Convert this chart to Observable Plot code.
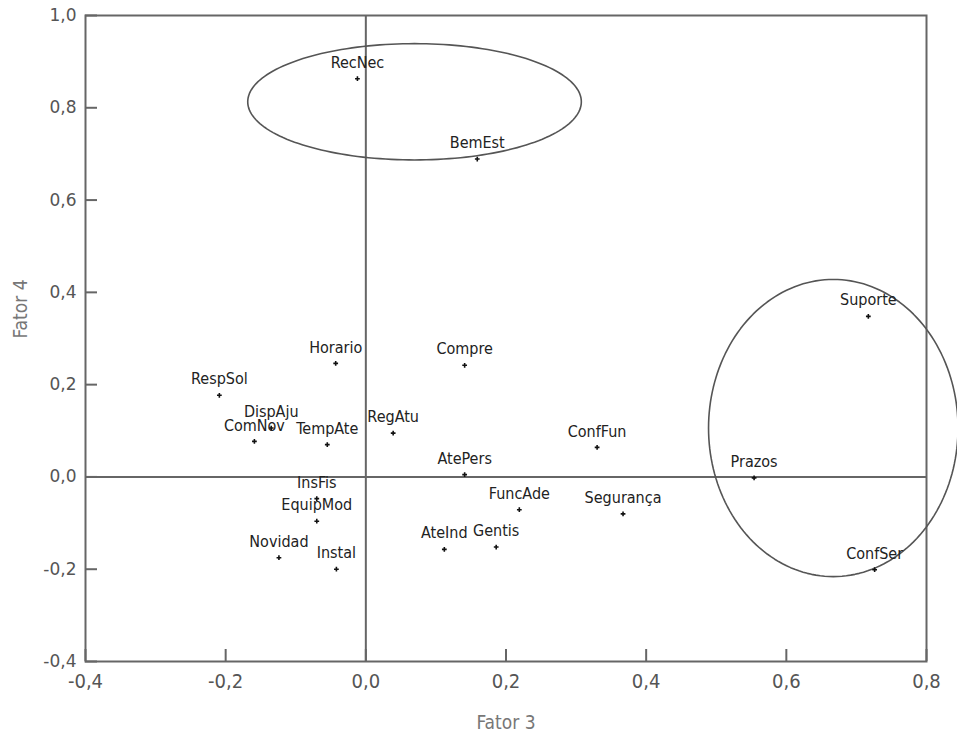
<!DOCTYPE html>
<html>
<head>
<meta charset="utf-8">
<script src="https://cdn.jsdelivr.net/npm/d3@7"></script>
<script src="https://cdn.jsdelivr.net/npm/@observablehq/plot@0.6"></script>
<style>
  html, body { margin: 0; padding: 0; background: #fff; }
  #chart svg { display: block; }
</style>
</head>
<body>
<div id="chart"></div>
<script>
// Variable names and loadings (Fator 3 = x, Fator 4 = y)
const names = ["RecNec","BemEst","Suporte","Horario","Compre","RespSol","DispAju","ComNov","TempAte","RegAtu","ConfFun","AtePers","Prazos","InsFis","FuncAde","Segurança","EquipMod","Gentis","AteInd","Novidad","Instal","ConfSer"];
const fator3 = [-0.012, 0.159, 0.717, -0.043, 0.141, -0.209, -0.135, -0.159, -0.055, 0.039, 0.330, 0.141, 0.554, -0.070, 0.219, 0.367, -0.070, 0.186, 0.112, -0.124, -0.042, 0.726];
const fator4 = [0.863, 0.689, 0.348, 0.246, 0.242, 0.177, 0.106, 0.077, 0.070, 0.095, 0.064, 0.005, -0.002, -0.047, -0.071, -0.080, -0.096, -0.152, -0.157, -0.175, -0.200, -0.201];

// Tick values
const xTicks = [-0.4, -0.2, 0.0, 0.2, 0.4, 0.6, 0.8];
const yTicks = [-0.4, -0.2, 0.0, 0.2, 0.4, 0.6, 0.8, 1.0];

// Group ellipses (center x, center y, radius x, radius y in data units)
const ellCx = [0.0695, 0.667];
const ellCy = [0.813, 0.106];
const ellRx = [0.238, 0.178];
const ellRy = [0.126, 0.322];

const points = names.map((n, i) => ({name: n, x: fator3[i], y: fator4[i]}));

const ellipsePts = [];
ellCx.forEach((cx, k) => {
  const N = 180;
  for (let j = 0; j <= N; j++) {
    const t = (j / N) * 2 * Math.PI;
    ellipsePts.push({g: k, x: cx + ellRx[k] * Math.cos(t), y: ellCy[k] + ellRy[k] * Math.sin(t)});
  }
});

const fmt = d => d3.format(".1f")(d).replace(".", ",").replace("−", "-");

const W = 957, H = 733;
const mL = 85, mR = 31, mT = 15, mB = 72;
const plotW = W - mL - mR, plotH = H - mT - mB;
const axisColor = "#666";
const tickLen = 12;
const narrow = "'DejaVu Sans Condensed', 'DejaVu Sans', sans-serif";

const chart = Plot.plot({
  width: W,
  height: H,
  marginLeft: mL,
  marginRight: mR,
  marginTop: mT,
  marginBottom: mB,
  style: {background: "#fff", overflow: "visible"},
  x: {domain: [-0.4, 0.8]},
  y: {domain: [-0.4, 1.0]},
  marks: [
    Plot.frame({stroke: axisColor, strokeWidth: 2}),
    Plot.ruleX([0], {stroke: axisColor, strokeWidth: 2}),
    Plot.ruleY([0], {stroke: axisColor, strokeWidth: 2}),
    Plot.ruleY(yTicks, {y: d => d, stroke: axisColor, strokeWidth: 2, insetRight: plotW - tickLen}),
    Plot.ruleX(xTicks, {x: d => d, stroke: axisColor, strokeWidth: 2, insetTop: plotH - tickLen}),
    Plot.axisY(yTicks, {
      tickSize: 0, tickPadding: 9, tickFormat: fmt,
      fontFamily: "'DejaVu Sans', sans-serif", fontSize: 17, fill: "#555",
      label: null
    }),
    Plot.axisX(xTicks, {
      tickSize: 0, tickPadding: 12, tickFormat: fmt,
      fontFamily: narrow, fontSize: 20, fill: "#555",
      label: null
    }),
    Plot.text(["Fator 3"], {
      frameAnchor: "bottom", dy: 67, text: d => d,
      fontFamily: narrow, fontSize: 19, fill: "#777", lineAnchor: "bottom"
    }),
    Plot.text(["Fator 4"], {
      frameAnchor: "left", dx: -65, text: d => d, rotate: -90,
      fontFamily: narrow, fontSize: 19, fill: "#777"
    }),
    Plot.line(ellipsePts, {x: "x", y: "y", z: "g", stroke: "#555", strokeWidth: 1.6, curve: "linear"}),
    Plot.dot(points, {x: "x", y: "y", symbol: "cross", r: 2, fill: "#111", stroke: "none"}),
    Plot.text(points, {
      x: "x", y: "y", text: "name", dy: -16,
      fontFamily: narrow, fontSize: 16, fill: "#222"
    })
  ]
});

document.getElementById("chart").appendChild(chart);
</script>
</body>
</html>
